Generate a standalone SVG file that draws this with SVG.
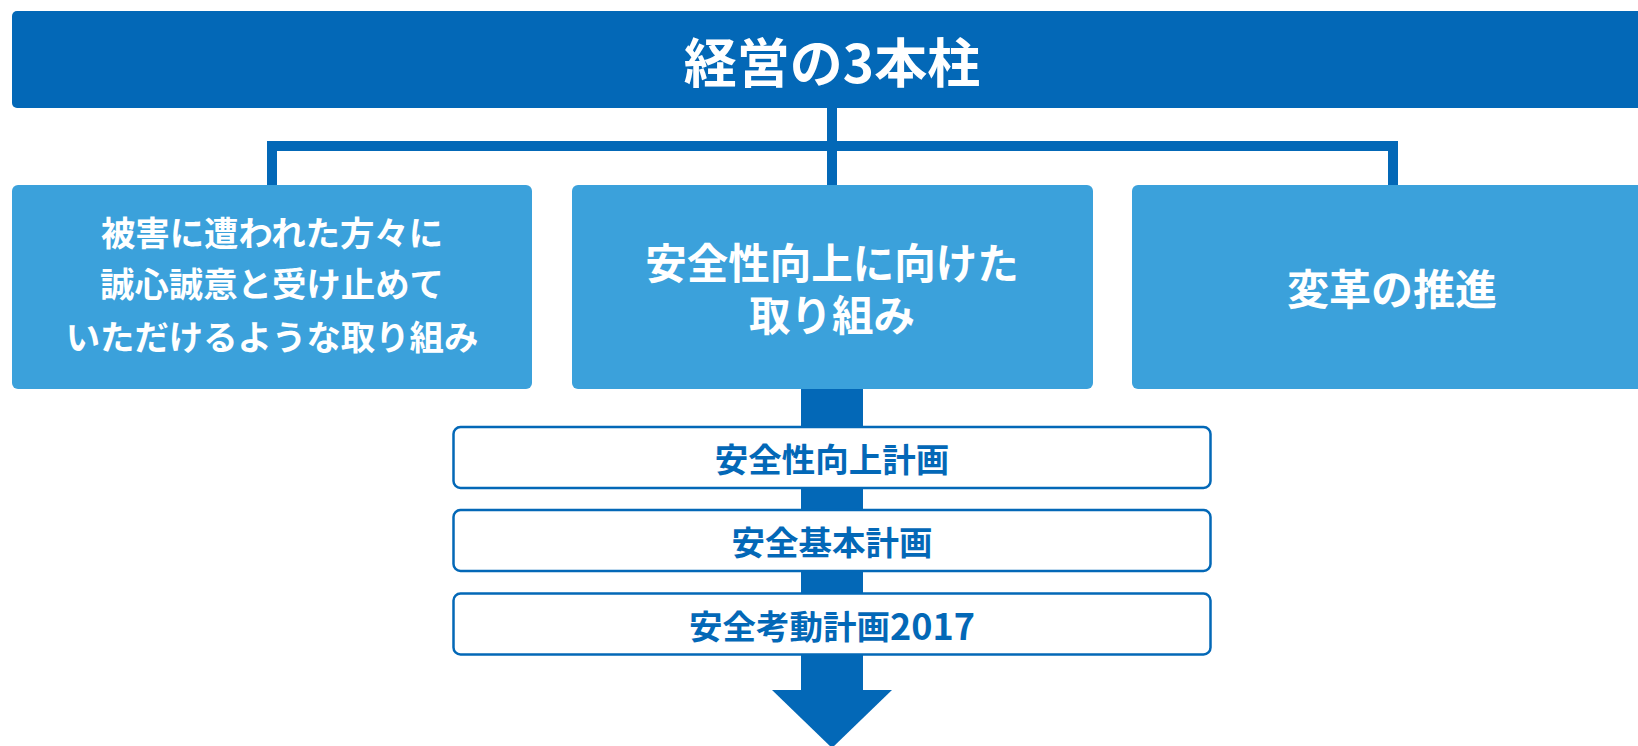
<svg xmlns="http://www.w3.org/2000/svg" width="1638" height="746" viewBox="0 0 1638 746">
<style>
.dark{fill:#0368B7}
.light{fill:#3BA1DB}
.wt{fill:#FFFFFF;font-family:"Noto Sans CJK JP","Noto Sans",sans-serif;font-weight:bold;text-anchor:middle;dominant-baseline:central}
.bt{fill:#0368B7;font-family:"Noto Sans CJK JP","Noto Sans",sans-serif;font-weight:bold;text-anchor:middle;dominant-baseline:central;font-size:33.5px}
.plan{fill:#FFFFFF;stroke:#0368B7;stroke-width:2.5}
.line{fill:none;stroke:#0368B7;stroke-width:10;stroke-linejoin:miter}
</style>
<rect width="1638" height="746" fill="#FFFFFF"/>
<g id="connectors">
<path class="line" d="M272,185 V146 H1393 V185"/>
<path class="line" d="M832,108 V185"/>
<rect class="dark" x="801" y="389" width="62" height="302"/>
<polygon class="dark" points="772,690 892,690 832,748"/>
</g>
<g id="title">
<rect class="dark" x="12" y="11" width="1640" height="97" rx="5"/>
<text class="wt" x="832" y="60" font-size="53">経営の3本柱</text>
</g>
<g id="pillar1">
<rect class="light" x="12" y="185" width="520" height="204" rx="6"/>
<text class="wt" font-size="34.4"><tspan x="272" y="231">被害に遭われた方々に</tspan><tspan x="272" y="282">誠心誠意と受け止めて</tspan><tspan x="272" y="335">いただけるような取り組み</tspan></text>
</g>
<g id="pillar2">
<rect class="light" x="572" y="185" width="521" height="204" rx="6"/>
<text class="wt" font-size="41.5"><tspan x="832" y="261">安全性向上に向けた</tspan><tspan x="832" y="313">取り組み</tspan></text>
</g>
<g id="pillar3">
<rect class="light" x="1132" y="185" width="520" height="204" rx="6"/>
<text class="wt" font-size="42" x="1392" y="286">変革の推進</text>
</g>
<g id="plan1">
<rect class="plan" x="453.5" y="427" width="757" height="61" rx="7"/>
<text class="bt" x="832" y="457.5">安全性向上計画</text>
</g>
<g id="plan2">
<rect class="plan" x="453.5" y="510" width="757" height="61" rx="7"/>
<text class="bt" x="832" y="540.5">安全基本計画</text>
</g>
<g id="plan3">
<rect class="plan" x="453.5" y="593.5" width="757" height="61" rx="7"/>
<text class="bt" x="832" y="624">安全考動計画<tspan font-size="36">2017</tspan></text>
</g>
</svg>
